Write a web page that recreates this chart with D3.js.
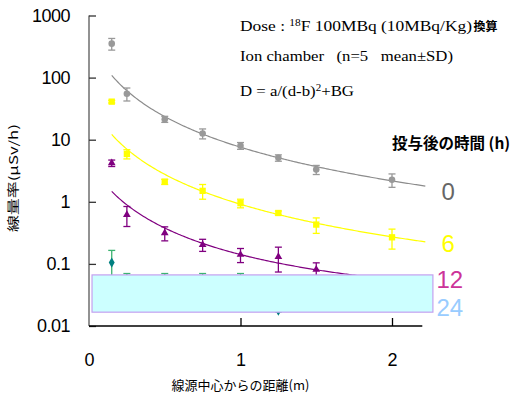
<!DOCTYPE html>
<html>
<head>
<meta charset="utf-8">
<script src="https://cdn.jsdelivr.net/npm/d3@7"></script>
<style>
  body { margin: 0; background: #fff; }
  svg { display: block; }
</style>
</head>
<body>
<svg id="chart" width="518" height="396"></svg>
<script>
// Dose rate vs distance from source, by time after administration
const distances = [0.15, 0.25, 0.5, 0.75, 1.0, 1.25, 1.5, 2.0];
const hours = ["0", "6", "12", "24"];

const dose0  = [352, 55, 21.4, 12.6, 8.0, 5.1, 3.3, 2.26];
const sd0    = [75, 13, 2.4, 2.3, 1.0, 0.6, 0.55, 0.55];
const dose6  = [41, 5.9, 2.1, 1.5, 0.95, 0.66, 0.43, 0.268];
const sd6    = [2, 1.0, 0.2, 0.4, 0.15, 0.05, 0.12, 0.095];
const dose12 = [4.2, 0.62, 0.315, 0.204, 0.141, 0.13, 0.081, null];
const sd12   = [0.5, 0.22, 0.08, 0.045, 0.036, 0.056, 0.023, null];
const dose24 = [0.105, 0.045, 0.044, 0.044, 0.044, 0.0176, 0.025, 0.022];
const sd24   = [0.06, 0.025, 0.026, 0.026, 0.026, 0.0008, 0.005, 0.004];

// fitted parameters of D = a/(d-b)^2 + BG for 0 h, 6 h, 12 h
const fitA  = [10.1, 1.235, 0.1736];
const fitB  = [-0.155, -0.169, -0.196];
const fitBG = [0, 0.01, 0.02];
const fitRange = [0.15, 2.22];

const yTicks = [0.01, 0.1, 1, 10, 100, 1000];
const xTicks = [0, 1, 2];

const svg = d3.select("#chart");

const x = d3.scaleLinear().domain([0, 2.2]).range([89, 422.3]);
const y = d3.scaleLog().domain([0.01, 1000]).range([326, 15.5]);

const series = [
  { dose: dose0,  sd: sd0,  color: "#999999", bar: "#999999", line: "#8c8c8c", symbol: d3.symbolCircle,   size: 34 },
  { dose: dose6,  sd: sd6,  color: "#ffff00", bar: "#ffff00", line: "#ffff00", symbol: d3.symbolSquare,   size: 40 },
  { dose: dose12, sd: sd12, color: "#800080", bar: "#800080", line: "#800080", symbol: d3.symbolTriangle, size: 26 },
  { dose: dose24, sd: sd24, color: "#008080", bar: "#3cb371", line: null,      symbol: d3.symbolDiamond,  size: 30 }
];

// fitted curves
const curveX = d3.range(fitRange[0], fitRange[1] + 1e-9, 0.01);
const line = d3.line().x(d => x(d[0])).y(d => y(d[1]));
series.forEach((s, i) => {
  if (!s.line) return;
  const pts = curveX.map(d => [d, fitA[i] / Math.pow(d - fitB[i], 2) + fitBG[i]]);
  svg.append("path")
    .attr("d", line(pts))
    .attr("fill", "none")
    .attr("stroke", s.line)
    .attr("stroke-width", 1.2);
});

// error bars and markers
const cap = 3.5;
series.forEach(s => {
  const g = svg.append("g");
  distances.forEach((d, j) => {
    const v = s.dose[j];
    if (v == null) return;
    const e = s.sd[j];
    const lo = Math.max(v - e, 0.0105);
    const hi = v + e;
    const cx = x(d);
    g.append("line").attr("x1", cx).attr("x2", cx).attr("y1", y(lo)).attr("y2", y(hi))
      .attr("stroke", s.bar).attr("stroke-width", 1.3);
    [lo, hi].forEach(b => {
      g.append("line").attr("x1", cx - cap).attr("x2", cx + cap).attr("y1", y(b)).attr("y2", y(b))
        .attr("stroke", s.bar).attr("stroke-width", 1.3);
    });
    g.append("path")
      .attr("d", d3.symbol().type(s.symbol).size(s.size)())
      .attr("transform", `translate(${cx},${y(v)})`)
      .attr("fill", s.color);
  });
});

// axes
const yAxis = d3.axisLeft(y).tickValues(yTicks).tickSize(-7).tickPadding(19)
  .tickFormat(d => d >= 1 ? d3.format("d")(d) : String(d));
const gy = svg.append("g").attr("transform", "translate(89,0)").call(yAxis);
gy.select(".domain").attr("stroke", "#777").attr("stroke-width", 1.6).attr("d", `M0,${y(1000)}V${y(0.01)}`);
gy.selectAll(".tick line").attr("stroke", "#333").attr("stroke-width", 1.3);
gy.selectAll(".tick text").attr("font-family", "Liberation Sans, Arial, sans-serif")
  .attr("font-size", 18).attr("fill", "#000").attr("letter-spacing", -0.5);

const xAxis = d3.axisBottom(x).tickValues(xTicks).tickSize(-8).tickPadding(27).tickFormat(d3.format("d"));
const gx = svg.append("g").attr("transform", "translate(0,326)").call(xAxis);
gx.select(".domain").attr("stroke", "#000").attr("stroke-width", 1.6).attr("d", `M${x(0)},0H${x(2.2)}`);
gx.selectAll(".tick line").attr("stroke", "#000").attr("stroke-width", 1.3);
gx.selectAll(".tick").filter(d => d === 0).select("line").remove();
gx.selectAll(".tick text").attr("font-family", "Liberation Sans, Arial, sans-serif")
  .attr("font-size", 18).attr("fill", "#000");

// box over the low-dose region
svg.append("rect")
  .attr("x", x(0.02)).attr("y", y(0.0665))
  .attr("width", x(2.27) - x(0.02)).attr("height", y(0.0167) - y(0.0665))
  .attr("fill", "#ccffff").attr("stroke", "#c4a0f0").attr("stroke-width", 1.2);

// axis titles
svg.append("text")
  .attr("transform", "translate(18,178) rotate(-90)")
  .attr("text-anchor", "middle")
  .attr("font-family", "Noto Sans CJK JP, sans-serif")
  .attr("font-size", 12)
  .attr("textLength", 108).attr("lengthAdjust", "spacingAndGlyphs")
  .text("線量率(μSv/h)");

svg.append("text")
  .attr("x", 240.5).attr("y", 390)
  .attr("text-anchor", "middle")
  .attr("font-family", "Noto Sans CJK JP, sans-serif")
  .attr("font-size", 13)
  .text("線源中心からの距離(m)");

// annotations
const serif = "Liberation Serif, Times New Roman, serif";
const t1 = svg.append("text").attr("x", 240).attr("y", 31).attr("font-family", serif).attr("font-size", 14.5)
  .attr("textLength", 232).attr("lengthAdjust", "spacingAndGlyphs");
t1.append("tspan").text("Dose : ");
t1.append("tspan").attr("font-size", 9.5).attr("dy", -5).text("18");
t1.append("tspan").attr("dy", 5).text("F 100MBq (10MBq/Kg)");
svg.append("text").attr("x", 473.5).attr("y", 31)
  .attr("font-family", "Noto Sans CJK JP, sans-serif").attr("font-weight", "bold").attr("font-size", 12)
  .text("換算");

svg.append("text").attr("x", 240).attr("y", 61).attr("font-family", serif).attr("font-size", 14.5)
  .style("white-space", "pre")
  .attr("textLength", 213).attr("lengthAdjust", "spacingAndGlyphs")
  .text("Ion chamber   (n=5   mean\u00b1SD)");

const t3 = svg.append("text").attr("x", 240).attr("y", 96).attr("font-family", serif).attr("font-size", 14.5)
  .attr("textLength", 114).attr("lengthAdjust", "spacingAndGlyphs");
t3.append("tspan").text("D = a/(d-b)");
t3.append("tspan").attr("font-size", 9.5).attr("dy", -5).text("2");
t3.append("tspan").attr("dy", 5).text("+BG");

// legend
svg.append("text").attr("x", 392).attr("y", 149)
  .attr("font-family", "Noto Sans CJK JP, sans-serif").attr("font-weight", "bold").attr("font-size", 15.5)
  .text("投与後の時間 (h)");

const legendColors = ["#666666", "#ffff00", "#cc3399", "#99ccff"];
const legendPos = [[441.5, 200], [441.5, 251.7], [436.5, 288.3], [436.5, 315.7]];
hours.forEach((h, i) => {
  svg.append("text")
    .attr("x", legendPos[i][0]).attr("y", legendPos[i][1])
    .attr("font-family", "Liberation Sans, Arial, sans-serif").attr("font-size", 24)
    .attr("fill", legendColors[i])
    .text(h);
});
</script>
</body>
</html>
